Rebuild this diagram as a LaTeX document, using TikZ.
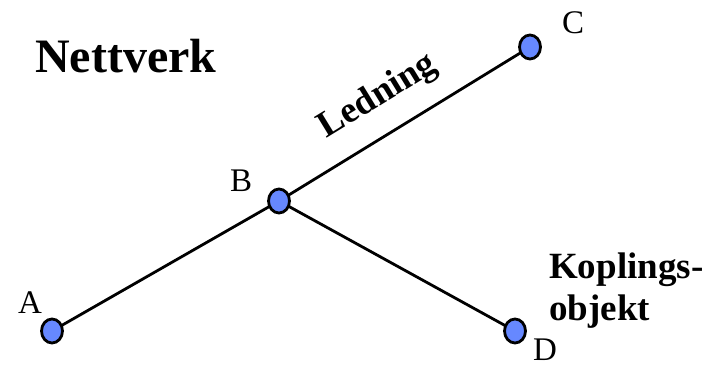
\documentclass[tikz,border=0pt]{standalone}
\usepackage{fontspec}
\setmainfont{Liberation Serif}
\usetikzlibrary{shapes.geometric}
\begin{document}
\begin{tikzpicture}[x=1pt,y=-1pt,
  dot/.style={ellipse,draw=black,line width=2.8pt,fill=nodeblue,minimum width=21pt,minimum height=24pt,inner sep=0pt},
  wire/.style={line width=2.8pt,black},
  lbl/.style={inner sep=0pt,font=\fontsize{33}{38}\selectfont},
  blbl/.style={inner sep=0pt,font=\bfseries\fontsize{37}{42}\selectfont}]
\definecolor{nodeblue}{HTML}{6688FF}
\useasboundingbox (0,0) rectangle (712,366);
\coordinate (pA) at (52,331);
\coordinate (pB) at (279,201);
\coordinate (pC) at (530,47);
\coordinate (pD) at (515,331);
\draw[wire] (pA) -- (pB) -- (pC);
\draw[wire] (pB) -- (pD);
\node[dot] (A) at (pA) {};
\node[dot] (B) at (pB) {};
\node[dot] (C) at (pC) {};
\node[dot] (D) at (pD) {};
\node[lbl,anchor=base west] (lA) at (18,313) {A};
\node[lbl,anchor=base west] (lB) at (230,192) {B};
\node[lbl,anchor=base west] (lC) at (562,34) {C};
\node[lbl,anchor=base west] (lD) at (533,360) {D};
\node[inner sep=0pt,anchor=base west,font=\bfseries\fontsize{48}{52}\selectfont] (title) at (35,73) {Nettverk};
\node[blbl,rotate=31.5] (led) at (378,97) {Ledning};
\node[blbl,anchor=base west] (k1) at (549,278) {Koplings-};
\node[blbl,anchor=base west] (k2) at (549,320) {objekt};
\end{tikzpicture}
\end{document}
